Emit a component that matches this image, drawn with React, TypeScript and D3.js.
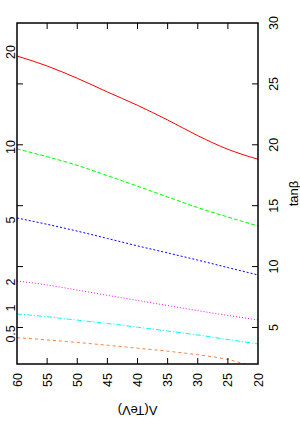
import React, { useEffect, useRef } from "react";
import * as d3 from "d3";

// Λ (TeV) sample points along the curves
const lambdaValues = [60, 55, 50, 45, 40, 35, 30, 25, 20];

// tanβ at the Λ points above
const curve20 = [27.29, 26.47, 25.46, 24.34, 23.24, 22.04, 20.75, 19.63, 18.81];
const curve10 = [19.66, 19.02, 18.31, 17.47, 16.6, 15.72, 14.84, 14.07, 13.33];
const curve5 = [13.99, 13.47, 12.91, 12.31, 11.7, 11.12, 10.53, 9.92, 9.31];
const curve2 = [8.82, 8.49, 8.07, 7.64, 7.22, 6.8, 6.38, 5.99, 5.62];
const curve1 = [6.11, 5.88, 5.6, 5.33, 5.02, 4.71, 4.38, 4.01, 3.65];
const curve05 = [4.16, 3.98, 3.77, 3.54, 3.3, 3.05, 2.76, 2.37, 1.65];

const curveNames = ["20", "10", "5", "2", "1", "0.5"];
// where each curve's label sits on the left edge (tanβ)
const labelTanb = [27.62, 19.82, 13.83, 8.74, 6.6, 4.47];

const lambdaTicks = [60, 55, 50, 45, 40, 35, 30, 25, 20];
const tanbTicks = [5, 10, 15, 20, 25, 30];

const colors = ["#ff0000", "#00ff00", "#0000ff", "#ff00ff", "#00ffff", "#ff7f3f"];
const dashes = ["none", "4,2", "2,2", "1,2", "5,2,1,2", "3,3"];

export default function App() {
  const ref = useRef<SVGSVGElement>(null);

  useEffect(() => {
    const svg = d3.select(ref.current);
    svg.selectAll("*").remove();

    const left = 17, top = 23, right = 258, bottom = 364;
    const x = d3.scaleLinear().domain([60, 20]).range([left, right]);
    const y = d3.scaleLinear().domain([2, 30]).range([bottom, top]);
    const font = "'Liberation Sans', Arial, sans-serif";

    svg.append("rect").attr("width", 300).attr("height", 427).attr("fill", "#fff");

    svg.append("defs").append("clipPath").attr("id", "plotclip")
      .append("rect").attr("x", left).attr("y", top)
      .attr("width", right - left).attr("height", bottom - top);

    const series = [curve20, curve10, curve5, curve2, curve1, curve05];
    const line = d3.line<number>()
      .x((_, i) => x(lambdaValues[i]))
      .y(d => y(d))
      .curve(d3.curveMonotoneX);

    const g = svg.append("g").attr("clip-path", "url(#plotclip)");
    series.forEach((s, i) => {
      g.append("path")
        .attr("d", line(s))
        .attr("fill", "none")
        .attr("stroke", colors[i])
        .attr("stroke-width", 1)
        .attr("stroke-dasharray", dashes[i]);
    });

    // ticks, inward, on all four sides
    const inner = lambdaTicks.slice(1, -1);
    inner.forEach(t => {
      svg.append("line").attr("x1", x(t)).attr("x2", x(t))
        .attr("y1", bottom).attr("y2", bottom - 6).attr("stroke", "#000");
      svg.append("line").attr("x1", x(t)).attr("x2", x(t))
        .attr("y1", top).attr("y2", top + 6).attr("stroke", "#000");
    });
    tanbTicks.filter(t => t < 30).forEach(t => {
      svg.append("line").attr("x1", left).attr("x2", left + 6)
        .attr("y1", y(t)).attr("y2", y(t)).attr("stroke", "#000");
      svg.append("line").attr("x1", right).attr("x2", right - 6)
        .attr("y1", y(t)).attr("y2", y(t)).attr("stroke", "#000");
    });

    svg.append("rect")
      .attr("x", left).attr("y", top)
      .attr("width", right - left).attr("height", bottom - top)
      .attr("fill", "none").attr("stroke", "#000").attr("stroke-width", 1.5);

    // bottom labels (Λ), rotated
    lambdaTicks.forEach(t => {
      svg.append("text")
        .attr("transform", `translate(${x(t) + 4.5},380) rotate(-90)`)
        .attr("text-anchor", "middle")
        .attr("font-family", font).attr("font-size", 12.5)
        .text(t);
    });

    // right labels (tanβ)
    tanbTicks.forEach(t => {
      svg.append("text")
        .attr("transform", `translate(278,${y(t)}) rotate(-90)`)
        .attr("text-anchor", "middle")
        .attr("font-family", font).attr("font-size", 12.5)
        .text(t);
    });

    // curve labels on the left
    curveNames.forEach((n, i) => {
      svg.append("text")
        .attr("transform", `translate(15,${y(labelTanb[i])}) rotate(-90)`)
        .attr("text-anchor", "middle")
        .attr("font-family", font).attr("font-size", 12.5)
        .text(n);
    });

    svg.append("text")
      .attr("transform", `translate(298,${(top + bottom) / 2}) rotate(-90)`)
      .attr("text-anchor", "middle")
      .attr("font-family", font).attr("font-size", 13)
      .text("tanβ");

    svg.append("text")
      .attr("transform", `translate(${(left + right) / 2},406) rotate(180)`)
      .attr("text-anchor", "middle")
      .attr("font-family", font).attr("font-size", 13)
      .text("Λ(TeV)");
  }, []);

  return (
    <svg ref={ref} width={300} height={427}
      style={{ position: "absolute", left: 0, top: 0 }} />
  );
}
